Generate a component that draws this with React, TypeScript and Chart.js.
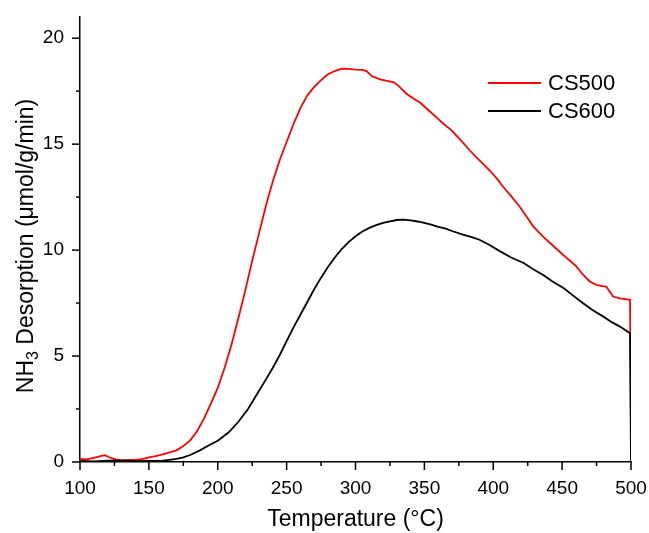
import React, { useEffect, useRef } from "react";
import { Chart, registerables } from "chart.js";

Chart.register(...registerables);

const FONT = "'Liberation Sans', Arial, sans-serif";

const xTickValues = [100, 150, 200, 250, 300, 350, 400, 450, 500];
const yTickValues = [0, 5, 10, 15, 20];
const seriesNames = ["CS500", "CS600"];
const seriesColors = ["#ff0000", "#000000"];

const cs500Temp = [100, 105, 110, 115, 118, 122, 126, 130, 135, 140, 145, 150, 155, 160, 165, 170, 175, 180, 185, 190, 195, 200, 205, 210, 215, 220, 225, 230, 235, 240, 245, 250, 255, 260, 265, 270, 275, 280, 285, 290, 295, 300, 305, 308, 312, 318, 322, 328, 332, 337, 342, 347, 353, 359, 364, 369, 374, 378, 383, 388, 393, 398, 403, 407, 413, 419, 424, 429, 436, 444, 452, 460, 465, 470, 475, 479, 482, 485, 487, 492, 499.3, 500, 499.7];
const cs500Value = [0.15, 0.12, 0.2, 0.28, 0.32, 0.2, 0.12, 0.06, 0.1, 0.1, 0.14, 0.22, 0.28, 0.36, 0.45, 0.55, 0.75, 1.02, 1.45, 2.05, 2.75, 3.5, 4.45, 5.55, 6.8, 8.1, 9.5, 10.8, 12.1, 13.25, 14.25, 15.1, 15.95, 16.7, 17.3, 17.7, 18.02, 18.3, 18.45, 18.56, 18.55, 18.52, 18.5, 18.45, 18.2, 18.06, 18.0, 17.92, 17.7, 17.38, 17.15, 16.95, 16.6, 16.25, 15.95, 15.7, 15.35, 15.07, 14.7, 14.36, 14.05, 13.72, 13.35, 13.0, 12.55, 12.07, 11.6, 11.12, 10.65, 10.17, 9.7, 9.25, 8.85, 8.52, 8.36, 8.3, 8.28, 8.0, 7.81, 7.72, 7.65, 1.3, 0.95];

const cs600Temp = [100, 110, 120, 130, 140, 150, 160, 165, 170, 175, 180, 187, 194, 200, 208, 215, 222, 228, 235, 240, 245, 250, 255, 260, 265, 270, 275, 280, 285, 290, 295, 300, 305, 310, 315, 320, 325, 330, 335, 340, 345, 350, 355, 360, 365, 370, 378, 385, 390, 397, 405, 413, 422, 429, 436, 443, 451, 458, 465, 472, 480, 486, 492, 499.3, 500];
const cs600Value = [0.05, 0.03, 0.06, 0.08, 0.04, 0.05, 0.06, 0.1, 0.15, 0.22, 0.33, 0.55, 0.8, 1.0, 1.4, 1.9, 2.5, 3.15, 3.9, 4.45, 5.05, 5.7, 6.35, 6.95, 7.55, 8.15, 8.7, 9.2, 9.65, 10.05, 10.38, 10.65, 10.88, 11.05, 11.18, 11.28, 11.36, 11.42, 11.44, 11.4, 11.35, 11.28, 11.2, 11.1, 11.02, 10.9, 10.73, 10.6, 10.49, 10.25, 9.94, 9.65, 9.39, 9.1, 8.84, 8.52, 8.21, 7.85, 7.5, 7.17, 6.86, 6.6, 6.39, 6.08, 0];

const toPoints = (xs: number[], ys: number[]) => xs.map((x, i) => ({ x, y: ys[i] }));

const decorPlugin = {
  id: "decor",
  afterDraw(chart: any) {
    const ctx = chart.ctx as CanvasRenderingContext2D;
    const xs = chart.scales.x;
    const ys = chart.scales.y;
    const area = chart.chartArea;
    ctx.save();
    ctx.strokeStyle = "#000";
    ctx.lineWidth = 1.5;
    for (let v = 100; v <= 500; v += 25) {
      const px = xs.getPixelForValue(v);
      const len = v % 50 === 0 ? 8 : 4;
      ctx.beginPath();
      ctx.moveTo(px, area.bottom);
      ctx.lineTo(px, area.bottom + len);
      ctx.stroke();
    }
    for (let v = 0; v <= 20; v += 2.5) {
      const py = ys.getPixelForValue(v);
      const len = v % 5 === 0 ? 8 : 4;
      ctx.beginPath();
      ctx.moveTo(area.left, py);
      ctx.lineTo(area.left - len, py);
      ctx.stroke();
    }
    ctx.fillStyle = "#000";
    ctx.font = `23px ${FONT}`;
    ctx.textAlign = "center";
    ctx.textBaseline = "middle";
    ctx.fillText("Temperature (°C)", (area.left + area.right) / 2, 520);
    const main = `23px ${FONT}`;
    const sub = `16px ${FONT}`;
    ctx.font = main;
    const w1 = ctx.measureText("NH").width;
    const w3 = ctx.measureText(" Desorption (μmol/g/min)").width;
    ctx.font = sub;
    const w2 = ctx.measureText("3").width;
    const total = w1 + w2 + w3;
    ctx.translate(33, 246);
    ctx.rotate(-Math.PI / 2);
    ctx.textAlign = "left";
    ctx.textBaseline = "alphabetic";
    let x0 = -total / 2;
    ctx.font = main;
    ctx.fillText("NH", x0, 0);
    x0 += w1;
    ctx.font = sub;
    ctx.fillText("3", x0, 5);
    x0 += w2;
    ctx.font = main;
    ctx.fillText(" Desorption (μmol/g/min)", x0, 0);
    ctx.restore();
    ctx.save();
    ctx.font = `22px ${FONT}`;
    ctx.textAlign = "left";
    ctx.textBaseline = "middle";
    seriesNames.forEach((name, i) => {
      const y = 83 + i * 28;
      ctx.strokeStyle = seriesColors[i];
      ctx.lineWidth = 2;
      ctx.beginPath();
      ctx.moveTo(488, y);
      ctx.lineTo(541, y);
      ctx.stroke();
      ctx.fillStyle = "#000";
      ctx.fillText(name, 548, y + 1);
    });
    ctx.restore();
  },
};

export default function App() {
  const ref = useRef<HTMLCanvasElement | null>(null);
  useEffect(() => {
    if (!ref.current) return;
    const chart = new Chart(ref.current, {
      type: "line",
      data: {
        datasets: [
          {
            label: seriesNames[0],
            data: toPoints(cs500Temp, cs500Value),
            borderColor: seriesColors[0],
            borderWidth: 1.8,
            pointRadius: 0,
            tension: 0,
            order: 2,
          },
          {
            label: seriesNames[1],
            data: toPoints(cs600Temp, cs600Value),
            borderColor: seriesColors[1],
            borderWidth: 1.8,
            pointRadius: 0,
            tension: 0,
            order: 1,
          },
        ],
      },
      options: {
        animation: false,
        responsive: true,
        maintainAspectRatio: false,
        parsing: false as any,
        layout: { padding: { top: 17, right: 18, left: 0, bottom: 0 } },
        plugins: { legend: { display: false }, tooltip: { enabled: false } },
        scales: {
          x: {
            type: "linear",
            min: 100,
            max: 500,
            afterBuildTicks: (s: any) => {
              s.ticks = xTickValues.map((v) => ({ value: v }));
            },
            afterFit: (s: any) => {
              s.height = 71;
            },
            grid: { display: true, drawOnChartArea: false, drawTicks: true, tickLength: 15, tickColor: "rgba(0,0,0,0)" },
            border: { display: true, color: "#000", width: 1.5 },
            ticks: {
              padding: 0,
              color: "#000",
              maxRotation: 0,
              autoSkip: false,
              font: { family: FONT, size: 19 },
            },
          },
          y: {
            type: "linear",
            min: 0,
            max: 21,
            afterBuildTicks: (s: any) => {
              s.ticks = yTickValues.map((v) => ({ value: v }));
            },
            afterFit: (s: any) => {
              s.width = 80;
            },
            grid: { display: true, drawOnChartArea: false, drawTicks: true, tickLength: 16, tickColor: "rgba(0,0,0,0)" },
            border: { display: true, color: "#000", width: 1.5 },
            ticks: {
              padding: 0,
              color: "#000",
              autoSkip: false,
              font: { family: FONT, size: 19 },
            },
          },
        },
      },
      plugins: [decorPlugin],
    });
    return () => chart.destroy();
  }, []);
  return (
    <div style={{ position: "fixed", left: 0, top: 0, width: 649, height: 533, background: "#fff" }}>
      <canvas ref={ref} />
    </div>
  );
}
